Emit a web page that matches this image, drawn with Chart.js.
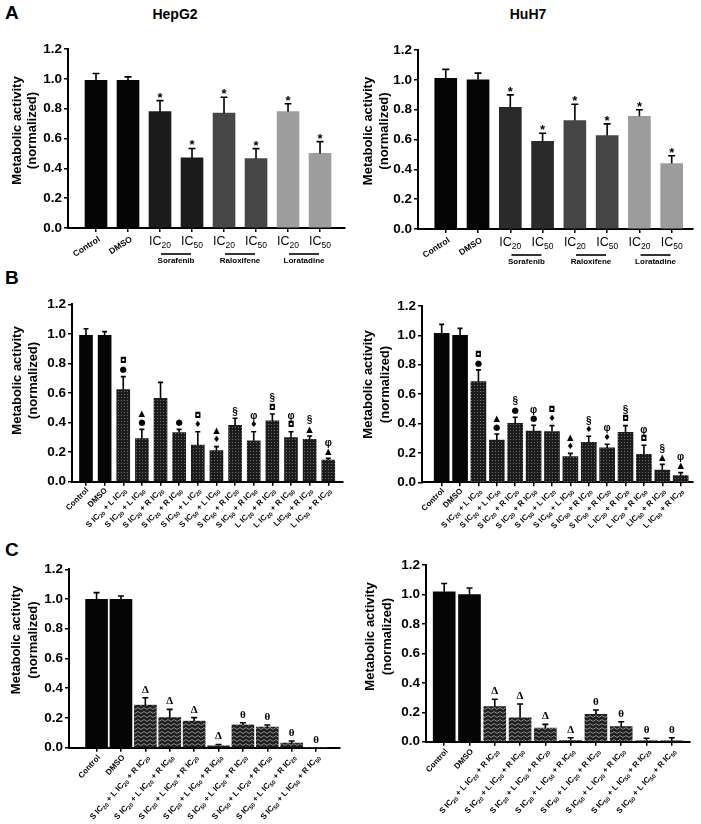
<!DOCTYPE html>
<html><head><meta charset="utf-8">
<script src="https://cdn.jsdelivr.net/npm/chart.js@4.4.1/dist/chart.umd.min.js"></script>
<style>
body{margin:0;background:#fff;width:701px;height:824px;position:relative;overflow:hidden;font-family:'Liberation Sans',Arial,sans-serif}
canvas{position:absolute}
.lbl{position:absolute;font-weight:bold;color:#000;white-space:nowrap;line-height:1}
</style></head><body>
<div class="lbl" style="left:5px;top:2.5px;font-size:19px">A</div>
<div class="lbl" style="left:5px;top:268px;font-size:19px">B</div>
<div class="lbl" style="left:5px;top:540px;font-size:19px">C</div>
<div class="lbl" style="left:175px;top:7px;font-size:14px;transform:translateX(-50%)">HepG2</div>
<div class="lbl" style="left:528px;top:7px;font-size:14px;transform:translateX(-50%)">HuH7</div>
<canvas id="aL" width="350" height="250" style="left:0;top:30px"></canvas>
<canvas id="aR" width="351" height="250" style="left:350px;top:30px"></canvas>
<canvas id="bL" width="350" height="275" style="left:0;top:285px"></canvas>
<canvas id="bR" width="351" height="275" style="left:350px;top:285px"></canvas>
<canvas id="cL" width="350" height="269" style="left:0;top:555px"></canvas>
<canvas id="cR" width="351" height="269" style="left:350px;top:555px"></canvas>
<script>
const FONT = "'Liberation Sans', Arial, Helvetica, sans-serif";
const SYMFONT = "'DejaVu Sans', sans-serif";
const yTickValues = [0, 0.2, 0.4, 0.6, 0.8, 1.0, 1.2];
const yAxisTitle = ['Metabolic activity', '(normalized)'];

// ---- Panel A ----
const aCategories = ['Control', 'DMSO', 'IC_20', 'IC_50', 'IC_20', 'IC_50', 'IC_20', 'IC_50'];
const aDrugGroups = ['Sorafenib', 'Raloxifene', 'Loratadine'];
const aHepG2Values = [0.99, 0.99, 0.78, 0.47, 0.77, 0.465, 0.78, 0.50];
const aHepG2Errors = [0.046, 0.023, 0.074, 0.063, 0.107, 0.067, 0.053, 0.079];
const aHuH7Values = [1.01, 1.0, 0.816, 0.587, 0.727, 0.627, 0.756, 0.439];
const aHuH7Errors = [0.06, 0.045, 0.083, 0.055, 0.109, 0.078, 0.043, 0.052];
const aMarks = ['', '', '*', '*', '*', '*', '*', '*'];

// ---- Panel B ----
const bCategories = ['Control', 'DMSO', 'S IC_20 + L IC_20', 'S IC_20 + L IC_50', 'S IC_20 + R IC_20', 'S IC_20 + R IC_50',
  'S IC_50 + L IC_20', 'S IC_50 + L IC_50', 'S IC_50 + R IC_20', 'S IC_50 + R IC_50', 'L IC_20 + R IC_20',
  'L IC_20 + R IC_50', 'LIC_50 + R IC_20', 'L IC_50 + R IC_20'];
const bHepG2Values = [0.99, 0.99, 0.623, 0.291, 0.564, 0.332, 0.248, 0.21, 0.381, 0.277, 0.411, 0.298, 0.286, 0.147];
const bHepG2Errors = [0.045, 0.025, 0.088, 0.063, 0.108, 0.022, 0.09, 0.027, 0.048, 0.061, 0.047, 0.04, 0.023, 0.011];
const bHepG2Marks = ['', '', '◘●', '▲●', '', '●', '◘♦', '▲♦', '§', 'φ♦', '§◘', 'φ◘', '§▲', 'φ▲'];
const bHuH7Values = [1.014, 1.0, 0.685, 0.288, 0.402, 0.349, 0.345, 0.175, 0.272, 0.234, 0.34, 0.19, 0.084, 0.045];
const bHuH7Errors = [0.061, 0.048, 0.08, 0.041, 0.041, 0.039, 0.041, 0.022, 0.041, 0.025, 0.046, 0.062, 0.038, 0.021];
const bHuH7Marks = ['', '', '◘●', '▲●', '§●', 'φ●', '◘♦', '▲♦', '§♦', 'φ♦', '§◘', 'φ◘', '§▲', 'φ▲'];

// ---- Panel C ----
const cCategories = ['Control', 'DMSO', 'S IC_20 + L IC_20 + R IC_20', 'S IC_20 + L IC_20 + R IC_50', 'S IC_20 + L IC_50 + R IC_20',
  'S IC_20 + L IC_50 + R IC_50', 'S IC_50 + L IC_20 + R IC_20', 'S IC_50 + L IC_20 + R IC_50', 'S IC_50 + L IC_50 + R IC_20',
  'S IC_50 + L IC_50 + R IC_50'];
const cHepG2Values = [0.998, 0.998, 0.287, 0.202, 0.179, 0.013, 0.153, 0.139, 0.031, 0.0];
const cHepG2Errors = [0.045, 0.022, 0.049, 0.056, 0.023, 0.009, 0.015, 0.014, 0.014, 0];
const cHuH7Values = [1.019, 1.0, 0.238, 0.163, 0.093, 0.009, 0.186, 0.102, 0.007, 0.007];
const cHuH7Errors = [0.056, 0.044, 0.05, 0.093, 0.025, 0.018, 0.029, 0.034, 0.016, 0.02];
const cMarks = ['', '', 'Δ', 'Δ', 'Δ', 'Δ', 'θ', 'θ', 'θ', 'θ'];

// ---- fills ----
function dotPattern() {
  const c = document.createElement('canvas'); c.width = 3; c.height = 3;
  const g = c.getContext('2d'); g.fillStyle = '#1c1c1c'; g.fillRect(0, 0, 3, 3);
  g.fillStyle = '#6e6e6e'; g.fillRect(1, 1, 1, 1);
  return g.createPattern(c, 'repeat');
}
function weavePattern() {
  const c = document.createElement('canvas'); c.width = 6; c.height = 4;
  const g = c.getContext('2d'); g.fillStyle = '#202020'; g.fillRect(0, 0, 6, 4);
  g.strokeStyle = '#8c8c8c'; g.lineWidth = 1;
  g.beginPath(); g.moveTo(0, 0.5); g.lineTo(3, 2.5); g.lineTo(6, 0.5); g.stroke();
  return g.createPattern(c, 'repeat');
}

// ---- text helpers ----
function parseRich(t) {
  const out = []; const re = /_(\d+)/g; let last = 0, m;
  while ((m = re.exec(t))) {
    if (m.index > last) out.push({ text: t.slice(last, m.index), sub: false });
    out.push({ text: m[1], sub: true }); last = re.lastIndex;
  }
  if (last < t.length) out.push({ text: t.slice(last), sub: false });
  return out;
}
function drawRich(ctx, t, x, y, o) {
  const segs = parseRich(t);
  const fN = `${o.weight} ${o.size}px ${FONT}`, fS = `${o.weight} ${o.subSize}px ${FONT}`;
  let W = 0;
  segs.forEach(s => { ctx.font = s.sub ? fS : fN; s.w = ctx.measureText(s.text).width; W += s.w; });
  ctx.save(); ctx.translate(x, y); ctx.rotate(-(o.angle || 0) * Math.PI / 180);
  ctx.textBaseline = 'alphabetic'; ctx.textAlign = 'left'; ctx.fillStyle = '#000';
  let cx = o.align === 'center' ? -W / 2 : -W;
  segs.forEach(s => { ctx.font = s.sub ? fS : fN; ctx.fillText(s.text, cx, (o.dy || 0) + (s.sub ? o.subDy : 0)); cx += s.w; });
  ctx.restore();
}

const extras = {
  id: 'extras',
  afterDatasetsDraw(chart, args, cfg) {
    const ctx = chart.ctx, xs = chart.scales.x, ys = chart.scales.y, ca = chart.chartArea;
    const vals = chart.data.datasets[0].data;
    ctx.save();
    // error bars + marks
    vals.forEach((pt, i) => {
      const v = pt.y;
      const x = xs.getPixelForValue(i);
      const top = ys.getPixelForValue(v + cfg.errors[i]);
      const barTop = ys.getPixelForValue(v);
      if (cfg.errors[i] > 0) {
        ctx.strokeStyle = '#000'; ctx.lineWidth = 1.6;
        ctx.beginPath(); ctx.moveTo(x, barTop); ctx.lineTo(x, top);
        ctx.moveTo(x - cfg.capW / 2, top); ctx.lineTo(x + cfg.capW / 2, top); ctx.stroke();
      }
      const mk = [...(cfg.marks[i] || '')];
      ctx.fillStyle = '#000'; ctx.textAlign = 'center';
      if (cfg.markStyle === 'star') {
        if (mk.length) { ctx.font = `bold 13px ${FONT}`; ctx.textBaseline = 'alphabetic'; ctx.fillText(mk[0], x, top + 1); }
      } else {
        ctx.textBaseline = 'middle';
        mk.reverse().forEach((s, k) => {
          if (s === 'Δ' || s === 'θ') ctx.font = `bold 11px 'Liberation Serif', serif`;
          else if (s === '§' || s === 'φ') ctx.font = `bold 10px ${FONT}`;
          else ctx.font = `8.5px ${SYMFONT}`;
          ctx.fillText(s, x, top - cfg.markOff - k * cfg.markGap);
        });
      }
    });
    // x labels
    const ay = ca.bottom;
    chart.data.labels.forEach((lab, i) => {
      const x = xs.getPixelForValue(i);
      if (cfg.kind === 'A' && i >= 2) {
        drawRich(ctx, lab, x, ay + 17, { weight: 'normal', size: 12.5, subSize: 8.5, subDy: 3, align: 'center' });
      } else {
        drawRich(ctx, lab, x + cfg.labDx, ay + cfg.labDy, { weight: 'bold', size: cfg.labSize, subSize: cfg.labSize * 0.72, subDy: cfg.labSize * 0.25, angle: cfg.labAngle, dy: cfg.labSize * 0.36 });
      }
    });
    if (cfg.kind === 'A') {
      aDrugGroups.forEach((g, k) => {
        const cx = (xs.getPixelForValue(2 + 2 * k) + xs.getPixelForValue(3 + 2 * k)) / 2;
        ctx.strokeStyle = '#000'; ctx.lineWidth = 1.6;
        ctx.beginPath(); ctx.moveTo(cx - 15, ay + 26); ctx.lineTo(cx + 15, ay + 26); ctx.stroke();
        ctx.font = `bold 8px ${FONT}`; ctx.textAlign = 'center'; ctx.textBaseline = 'alphabetic';
        ctx.fillText(g, cx, ay + 35);
      });
    }
    // y title
    ctx.font = `bold 13px ${FONT}`; ctx.textAlign = 'center'; ctx.textBaseline = 'middle'; ctx.fillStyle = '#000';
    yAxisTitle.forEach((t, k) => {
      ctx.save(); ctx.translate(cfg.titleX[k], cfg.titleY); ctx.rotate(-Math.PI / 2); ctx.fillText(t, 0, 0); ctx.restore();
    });
    ctx.restore();
  }
};

function makePanel(id, labels, values, colors, cfg) {
  const axisGrid = { display: true, offset: false, drawOnChartArea: false, drawTicks: true, tickLength: 4, color: '#000', lineWidth: 1.5 };
  const axisBorder = { display: true, color: '#000', width: 2 };
  return new Chart(document.getElementById(id), {
    type: 'bar',
    data: { labels: labels, datasets: [{ data: values.map((v, i) => ({ x: i, y: v })), backgroundColor: colors, borderWidth: 0, barThickness: cfg.barW }] },
    options: {
      animation: false, responsive: false, maintainAspectRatio: false,
      layout: { padding: { left: 0, top: cfg.padTop, right: cfg.padRight, bottom: cfg.padBottom } },
      plugins: { legend: { display: false }, tooltip: { enabled: false }, extras: cfg },
      scales: {
        x: {
          type: 'linear', offset: false, min: cfg.xMin, max: cfg.xMax,
          afterBuildTicks: s => { s.ticks = values.map((_, i) => ({ value: i })); },
          afterFit: s => { s.height = 4; },
          ticks: { display: false }, grid: axisGrid, border: axisBorder
        },
        y: {
          type: 'linear', min: 0, max: 1.2,
          afterBuildTicks: s => { s.ticks = yTickValues.map(v => ({ value: v })); },
          afterFit: s => { s.width = cfg.yW; },
          ticks: { color: '#000', padding: 2, font: { family: FONT, size: 13.5, weight: 'bold' }, callback: v => Number(v).toFixed(1) },
          grid: axisGrid, border: axisBorder
        }
      }
    },
    plugins: [extras]
  });
}

const BLACK = '#050505';
const dots = dotPattern(), weave = weavePattern();
const colsAHep = [BLACK, BLACK, '#1c1c1c', '#1c1c1c', '#474747', '#474747', '#9e9e9e', '#9e9e9e'];
const colsAHuh = [BLACK, BLACK, '#2a2a2a', '#2a2a2a', '#454545', '#454545', '#9c9c9c', '#9c9c9c'];
const colsB = bCategories.map((_, i) => i < 2 ? BLACK : dots);
const colsC = cCategories.map((_, i) => i < 2 ? BLACK : weave);

const aCommon = { kind: 'A', markStyle: 'star', capW: 7, barW: 22, labDx: 3, labDy: 10, labSize: 8.5, labAngle: 33 };
makePanel('aL', aCategories, aHepG2Values, colsAHep, Object.assign({}, aCommon, {
  errors: aHepG2Errors, marks: aMarks, yW: 68, padTop: 19, padRight: 5, padBottom: 48, xMin: -0.875, xMax: 7.78,
  titleX: [17, 32], titleY: 100.5 }));
makePanel('aR', aCategories, aHuH7Values, colsAHuh, Object.assign({}, aCommon, {
  errors: aHuH7Errors, marks: aMarks, yW: 68, padTop: 20, padRight: 8, padBottom: 47, xMin: -0.86, xMax: 7.66,
  titleX: [18, 34], titleY: 101 }));

const bCommon = { kind: 'B', markStyle: 'sym', capW: 5, markOff: 6.5, markGap: 9, labDx: 1, labDy: 7, labSize: 8, labAngle: 45 };
makePanel('bL', bCategories, bHepG2Values, colsB, Object.assign({}, bCommon, {
  barW: 13, errors: bHepG2Errors, marks: bHepG2Marks, yW: 72, padTop: 19.3, padRight: 7, padBottom: 74.3, xMin: -0.75, xMax: 13.79,
  titleX: [17, 33], titleY: 95.5 }));
makePanel('bR', bCategories, bHuH7Values, colsB, Object.assign({}, bCommon, {
  barW: 15, errors: bHuH7Errors, marks: bHuH7Marks, yW: 72, padTop: 21, padRight: 8, padBottom: 73.7, xMin: -1.07, xMax: 13.67,
  titleX: [18, 35], titleY: 99.5 }));

const cCommon = { kind: 'C', markStyle: 'sym', capW: 6, barW: 22, markOff: 8, markGap: 9, labDx: 2, labDy: 8, labSize: 8, labAngle: 48 };
makePanel('cL', cCategories, cHepG2Values, colsC, Object.assign({}, cCommon, {
  errors: cHepG2Errors, marks: cMarks, yW: 69, padTop: 14.3, padRight: 10, padBottom: 72.3, xMin: -1.13, xMax: 9.98,
  titleX: [16, 33], titleY: 85 }));
makePanel('cR', cCategories, cHuH7Values, colsC, Object.assign({}, cCommon, {
  errors: cHuH7Errors, marks: cMarks, yW: 76, padTop: 10, padRight: 11, padBottom: 78.3, xMin: -0.72, xMax: 9.72,
  titleX: [20, 37], titleY: 81.5 }));
</script>
</body></html>
